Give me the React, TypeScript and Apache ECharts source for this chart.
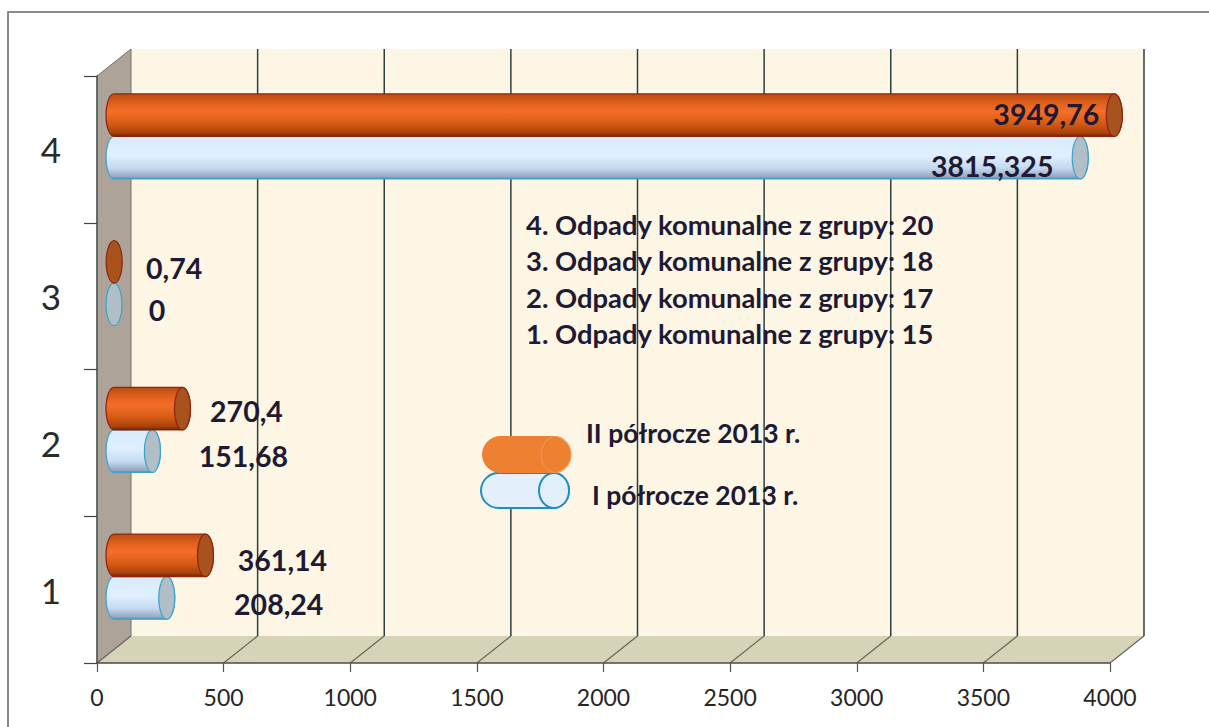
import React, { useEffect, useRef } from "react";
import * as echarts from "echarts";

const categories = ["1", "2", "3", "4"];
const firstHalf = [208.24, 151.68, 0, 3815.325];
const secondHalf = [361.14, 270.4, 0.74, 3949.76];
const firstHalfName = "I półrocze 2013 r.";
const secondHalfName = "II półrocze 2013 r.";
const xTicks = [0, 500, 1000, 1500, 2000, 2500, 3000, 3500, 4000];
const notes = [
  "4. Odpady komunalne z grupy: 20",
  "3. Odpady komunalne z grupy: 18",
  "2. Odpady komunalne z grupy: 17",
  "1. Odpady komunalne z grupy: 15",
];

// label offsets from the bar end (dx, dy), one per category
const firstHalfLabelOffset = [[112, 6], [91, 5], [43, 6], [-88, 8]];
const secondHalfLabelOffset = [[77, 5], [64, 2], [60, 6], [-68, -1]];

const FONT = "Lato, 'Open Sans', sans-serif";
const DEPTH_X = 34;
const DEPTH_Y = 27;
const BAR_H = 42.5;
const RX = 8;

const lin = (stops: [number, string][]) =>
  new echarts.graphic.LinearGradient(0, 0, 0, 1, stops.map(([offset, color]) => ({ offset, color })));

const orangeBody = () =>
  lin([[0, "#b84c10"], [0.2, "#dd5f1c"], [0.42, "#f56e28"], [0.7, "#d65a14"], [0.92, "#a8420c"], [1, "#6e2408"]]);
const blueBody = () =>
  lin([[0, "#d8ebfb"], [0.45, "#dfeffd"], [0.75, "#c4d8f0"], [0.95, "#98a8be"], [1, "#4f8fb0"]]);

function barRenderer(values: number[], offsets: number[][], dir: number, isOrange: boolean) {
  return (params: any, api: any) => {
    const idx = api.value(1);
    const v = api.value(0);
    const start = api.coord([0, idx]);
    const end = api.coord([v, idx]);
    const cy = start[1] - DEPTH_Y / 2 + (dir * BAR_H) / 2 + 0.5;
    const l = start[0] + DEPTH_X / 2;
    const r = end[0] + DEPTH_X / 2;
    const t = cy - BAR_H / 2;
    const b = cy + BAR_H / 2;
    const edge = isOrange ? "#8e2410" : "#3ea3cc";
    const children: any[] = [];
    if (r - l > 1) {
      children.push({
        type: "path",
        shape: {
          pathData: `M${l} ${t}L${r} ${t}A${RX} ${BAR_H / 2} 0 0 1 ${r} ${b}L${l} ${b}A${RX} ${BAR_H / 2} 0 0 1 ${l} ${t}Z`,
        },
        style: { fill: isOrange ? orangeBody() : blueBody(), stroke: edge, lineWidth: 1.2 },
      });
    }
    children.push({
      type: "ellipse",
      shape: { cx: r, cy, rx: RX, ry: BAR_H / 2 },
      style: { fill: isOrange ? "#a8521e" : "#b0bec8", stroke: edge, lineWidth: 1.2 },
    });
    const off = offsets[idx];
    children.push({
      type: "text",
      x: r + off[0],
      y: cy + off[1],
      style: {
        text: String(values[idx]).replace(".", ","),
        align: "center",
        verticalAlign: "middle",
        font: `bold 28.5px ${FONT}`,
        fill: "#1e1a33",
      },
    });
    return { type: "group", children };
  };
}

function frameRenderer(params: any, api: any) {
  const g = params.coordSys;
  const left = g.x;
  const right = g.x + g.width;
  const top = g.y;
  const bottom = g.y + g.height;
  const children: any[] = [];
  const v = api.value(0);
  const x = api.coord([v, 0])[0];
  if (params.dataIndex === 0) {
    children.push(
      {
        type: "polygon",
        shape: {
          points: [[left + DEPTH_X, top - DEPTH_Y], [right + DEPTH_X, top - DEPTH_Y], [right + DEPTH_X, bottom - DEPTH_Y], [left + DEPTH_X, bottom - DEPTH_Y]],
        },
        style: { fill: "#fdf6e5" },
      },
      {
        type: "polygon",
        shape: {
          points: [[left, top], [left + DEPTH_X, top - DEPTH_Y], [left + DEPTH_X, bottom - DEPTH_Y], [left, bottom]],
        },
        style: { fill: "#aea398", stroke: "#77716a", lineWidth: 1 },
      },
      {
        type: "polygon",
        shape: {
          points: [[left, bottom], [left + DEPTH_X, bottom - DEPTH_Y], [right + DEPTH_X, bottom - DEPTH_Y], [right, bottom]],
        },
        style: { fill: "#d5d4b6" },
      },
    );
  }
  children.push({
    type: "polyline",
    shape: { points: [[x, bottom], [x + DEPTH_X, bottom - DEPTH_Y]] },
    style: { stroke: "#66665f", lineWidth: 1.2, fill: "none" },
  });
  if (params.dataIndex > 0) {
    children.push({
      type: "line",
      shape: { x1: x + DEPTH_X, y1: bottom - DEPTH_Y, x2: x + DEPTH_X, y2: top - DEPTH_Y },
      style: { stroke: "#2f3f3c", lineWidth: 1.5 },
    });
  }
  return { type: "group", children };
}

export default function App() {
  const ref = useRef<HTMLDivElement>(null);
  useEffect(() => {
    const chart = echarts.init(ref.current!, undefined, { renderer: "svg" });
    const noteStyle = { font: `bold 27.4px ${FONT}`, fill: "#1e1a33", verticalAlign: "middle" };
    const legendStyle = { font: `bold 26.5px ${FONT}`, fill: "#1e1a33", verticalAlign: "middle" };
    chart.setOption({
      animation: false,
      backgroundColor: "#ffffff",
      grid: { left: 97, right: 99, top: 76, bottom: 64 },
      xAxis: {
        type: "value",
        min: 0,
        max: 4000,
        interval: 500,
        z: 5,
        splitLine: { show: false },
        axisLine: { show: true, lineStyle: { color: "#4a4a4a", width: 1.5 } },
        axisTick: { show: true, length: 9, lineStyle: { color: "#555", width: 1.2 } },
        axisLabel: { fontFamily: FONT, fontSize: 23, color: "#262626", margin: 22, formatter: (v: number) => String(v) },
      },
      yAxis: {
        type: "category",
        data: categories,
        z: 5,
        axisLine: { show: true, lineStyle: { color: "#4a5a58", width: 1.5 } },
        axisTick: { show: true, length: 13, lineStyle: { color: "#444", width: 1.2 } },
        axisLabel: { fontFamily: FONT, fontSize: 35, color: "#2a2a2a", margin: 36 },
      },
      graphic: {
        elements: [
          {
            type: "polyline",
            z: 0,
            silent: true,
            shape: { points: [[8, 727], [8, 12], [1209, 12]] },
            style: { stroke: "#666", lineWidth: 1.5, fill: "none" },
          },
          ...notes.map((t, i) => ({
            type: "text",
            z: 20,
            x: 526,
            y: 224 + i * 36.5,
            style: { text: t, ...noteStyle },
          })),
          {
            type: "rect",
            z: 20,
            shape: { x: 481, y: 473, width: 88, height: 35, r: 17.5 },
            style: { fill: "#e3effb", stroke: "#1f8fc0", lineWidth: 2 },
          },
          {
            type: "ellipse",
            z: 20,
            shape: { cx: 554, cy: 490.5, rx: 15, ry: 17.5 },
            style: { fill: "#e3effb", stroke: "#1f8fc0", lineWidth: 2 },
          },
          {
            type: "rect",
            z: 21,
            shape: { x: 482, y: 436, width: 89, height: 37, r: 18.5 },
            style: { fill: "#ee8032" },
          },
          {
            type: "ellipse",
            z: 21,
            shape: { cx: 556, cy: 454.5, rx: 15, ry: 18 },
            style: { fill: "none", stroke: "#f29a5c", lineWidth: 1 },
          },
          { type: "text", z: 20, x: 586, y: 433, style: { text: secondHalfName, ...legendStyle } },
          { type: "text", z: 20, x: 592, y: 495, style: { text: firstHalfName, ...legendStyle } },
        ],
      },
      series: [
        {
          type: "custom",
          name: "frame",
          z: 1,
          silent: true,
          clip: false,
          data: xTicks.map((v) => [v, 0]),
          encode: { x: 0, y: 1 },
          renderItem: frameRenderer,
        },
        {
          type: "custom",
          name: firstHalfName,
          z: 10,
          clip: false,
          data: firstHalf.map((v, i) => [v, i]),
          encode: { x: 0, y: 1 },
          renderItem: barRenderer(firstHalf, firstHalfLabelOffset, 1, false),
        },
        {
          type: "custom",
          name: secondHalfName,
          z: 11,
          clip: false,
          data: secondHalf.map((v, i) => [v, i]),
          encode: { x: 0, y: 1 },
          renderItem: barRenderer(secondHalf, secondHalfLabelOffset, -1, true),
        },
      ],
    });
    return () => chart.dispose();
  }, []);
  return <div ref={ref} style={{ position: "absolute", left: 0, top: 0, width: 1209, height: 727 }} />;
}
